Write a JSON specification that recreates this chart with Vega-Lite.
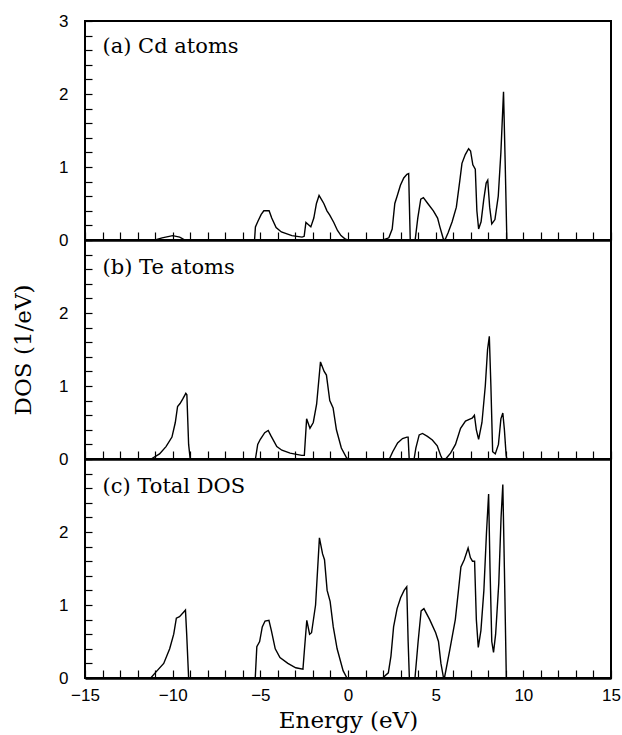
{
  "$schema": "https://vega.github.io/schema/vega-lite/v6.json",
  "padding": {"left": 11, "top": 11, "right": 8, "bottom": 2},
  "background": "white",
  "config": {
    "view": {"stroke": "black", "strokeWidth": 2},
    "axis": {"grid": false, "tickColor": "black", "tickWidth": 1.2, "labelColor": "black", "titleColor": "black", "labelFont": "Liberation Sans", "labelFontSize": 17, "titleFont": "DejaVu Serif", "titleFontSize": 23, "titleFontWeight": "normal", "labelOverlap": false, "labelFlush": false, "labelBound": false, "tickCount": 100}
  },
  "datasets": {
    "dos": [
      {"panel": "a", "x": -15, "y": 0}, {"panel": "a", "x": -11.0, "y": 0}, {"panel": "a", "x": -10.6, "y": 0.03}, {"panel": "a", "x": -10.0, "y": 0.06}, {"panel": "a", "x": -9.6, "y": 0.04}, {"panel": "a", "x": -9.3, "y": 0},
      {"panel": "a", "x": -5.33, "y": 0}, {"panel": "a", "x": -5.28, "y": 0.18}, {"panel": "a", "x": -5.15, "y": 0.25}, {"panel": "a", "x": -4.95, "y": 0.35}, {"panel": "a", "x": -4.8, "y": 0.4}, {"panel": "a", "x": -4.5, "y": 0.4}, {"panel": "a", "x": -4.35, "y": 0.3}, {"panel": "a", "x": -4.1, "y": 0.17}, {"panel": "a", "x": -3.8, "y": 0.11}, {"panel": "a", "x": -3.2, "y": 0.06}, {"panel": "a", "x": -2.62, "y": 0.04}, {"panel": "a", "x": -2.5, "y": 0.05}, {"panel": "a", "x": -2.4, "y": 0.24}, {"panel": "a", "x": -2.3, "y": 0.22}, {"panel": "a", "x": -2.12, "y": 0.18}, {"panel": "a", "x": -1.95, "y": 0.3}, {"panel": "a", "x": -1.8, "y": 0.5}, {"panel": "a", "x": -1.65, "y": 0.61}, {"panel": "a", "x": -1.5, "y": 0.55}, {"panel": "a", "x": -1.38, "y": 0.5}, {"panel": "a", "x": -1.2, "y": 0.4}, {"panel": "a", "x": -1.04, "y": 0.34}, {"panel": "a", "x": -0.81, "y": 0.24}, {"panel": "a", "x": -0.6, "y": 0.13}, {"panel": "a", "x": -0.4, "y": 0.06}, {"panel": "a", "x": -0.14, "y": 0.01}, {"panel": "a", "x": 0, "y": 0},
      {"panel": "a", "x": 2.0, "y": 0}, {"panel": "a", "x": 2.33, "y": 0.03}, {"panel": "a", "x": 2.52, "y": 0.15}, {"panel": "a", "x": 2.67, "y": 0.5}, {"panel": "a", "x": 2.8, "y": 0.6}, {"panel": "a", "x": 2.99, "y": 0.75}, {"panel": "a", "x": 3.18, "y": 0.85}, {"panel": "a", "x": 3.36, "y": 0.9}, {"panel": "a", "x": 3.46, "y": 0.91}, {"panel": "a", "x": 3.5, "y": 0.5}, {"panel": "a", "x": 3.55, "y": 0},
      {"panel": "a", "x": 3.83, "y": 0}, {"panel": "a", "x": 3.98, "y": 0.3}, {"panel": "a", "x": 4.15, "y": 0.56}, {"panel": "a", "x": 4.3, "y": 0.58}, {"panel": "a", "x": 4.55, "y": 0.5}, {"panel": "a", "x": 4.87, "y": 0.4}, {"panel": "a", "x": 5.11, "y": 0.3}, {"panel": "a", "x": 5.24, "y": 0.18}, {"panel": "a", "x": 5.43, "y": 0.02}, {"panel": "a", "x": 5.5, "y": 0},
      {"panel": "a", "x": 5.53, "y": 0}, {"panel": "a", "x": 5.71, "y": 0.1}, {"panel": "a", "x": 5.94, "y": 0.25}, {"panel": "a", "x": 6.18, "y": 0.45}, {"panel": "a", "x": 6.37, "y": 0.8}, {"panel": "a", "x": 6.5, "y": 1.05}, {"panel": "a", "x": 6.69, "y": 1.17}, {"panel": "a", "x": 6.88, "y": 1.25}, {"panel": "a", "x": 6.99, "y": 1.22}, {"panel": "a", "x": 7.12, "y": 1.03}, {"panel": "a", "x": 7.26, "y": 0.97}, {"panel": "a", "x": 7.35, "y": 0.4}, {"panel": "a", "x": 7.45, "y": 0.15}, {"panel": "a", "x": 7.59, "y": 0.25}, {"panel": "a", "x": 7.74, "y": 0.55}, {"panel": "a", "x": 7.88, "y": 0.78}, {"panel": "a", "x": 7.97, "y": 0.82}, {"panel": "a", "x": 8.08, "y": 0.45}, {"panel": "a", "x": 8.2, "y": 0.22}, {"panel": "a", "x": 8.38, "y": 0.28}, {"panel": "a", "x": 8.57, "y": 0.6}, {"panel": "a", "x": 8.72, "y": 1.2}, {"panel": "a", "x": 8.87, "y": 2.03}, {"panel": "a", "x": 8.97, "y": 1.0}, {"panel": "a", "x": 9.06, "y": 0}, {"panel": "a", "x": 15, "y": 0},

      {"panel": "b", "x": -15, "y": 0}, {"panel": "b", "x": -11.23, "y": 0}, {"panel": "b", "x": -10.75, "y": 0.07}, {"panel": "b", "x": -10.38, "y": 0.17}, {"panel": "b", "x": -10.04, "y": 0.3}, {"panel": "b", "x": -9.85, "y": 0.5}, {"panel": "b", "x": -9.72, "y": 0.72}, {"panel": "b", "x": -9.58, "y": 0.76}, {"panel": "b", "x": -9.43, "y": 0.82}, {"panel": "b", "x": -9.25, "y": 0.9}, {"panel": "b", "x": -9.19, "y": 0.88}, {"panel": "b", "x": -9.09, "y": 0.2}, {"panel": "b", "x": -9.0, "y": 0},
      {"panel": "b", "x": -5.28, "y": 0}, {"panel": "b", "x": -5.15, "y": 0.2}, {"panel": "b", "x": -5.0, "y": 0.27}, {"panel": "b", "x": -4.75, "y": 0.36}, {"panel": "b", "x": -4.55, "y": 0.39}, {"panel": "b", "x": -4.4, "y": 0.32}, {"panel": "b", "x": -4.06, "y": 0.17}, {"panel": "b", "x": -3.77, "y": 0.12}, {"panel": "b", "x": -3.3, "y": 0.08}, {"panel": "b", "x": -2.64, "y": 0.05}, {"panel": "b", "x": -2.49, "y": 0.05}, {"panel": "b", "x": -2.36, "y": 0.55}, {"panel": "b", "x": -2.17, "y": 0.42}, {"panel": "b", "x": -1.98, "y": 0.5}, {"panel": "b", "x": -1.79, "y": 0.75}, {"panel": "b", "x": -1.57, "y": 1.33}, {"panel": "b", "x": -1.36, "y": 1.2}, {"panel": "b", "x": -1.23, "y": 1.15}, {"panel": "b", "x": -1.04, "y": 0.8}, {"panel": "b", "x": -0.85, "y": 0.7}, {"panel": "b", "x": -0.66, "y": 0.4}, {"panel": "b", "x": -0.38, "y": 0.15}, {"panel": "b", "x": -0.09, "y": 0.02}, {"panel": "b", "x": 0, "y": 0},
      {"panel": "b", "x": 2.36, "y": 0}, {"panel": "b", "x": 2.55, "y": 0.1}, {"panel": "b", "x": 2.83, "y": 0.22}, {"panel": "b", "x": 3.11, "y": 0.28}, {"panel": "b", "x": 3.36, "y": 0.3}, {"panel": "b", "x": 3.43, "y": 0.3}, {"panel": "b", "x": 3.49, "y": 0},
      {"panel": "b", "x": 3.77, "y": 0}, {"panel": "b", "x": 3.87, "y": 0.15}, {"panel": "b", "x": 4.06, "y": 0.33}, {"panel": "b", "x": 4.25, "y": 0.35}, {"panel": "b", "x": 4.53, "y": 0.31}, {"panel": "b", "x": 4.81, "y": 0.26}, {"panel": "b", "x": 5.09, "y": 0.18}, {"panel": "b", "x": 5.28, "y": 0.05}, {"panel": "b", "x": 5.38, "y": 0},
      {"panel": "b", "x": 5.57, "y": 0}, {"panel": "b", "x": 5.85, "y": 0.08}, {"panel": "b", "x": 6.13, "y": 0.2}, {"panel": "b", "x": 6.42, "y": 0.42}, {"panel": "b", "x": 6.7, "y": 0.52}, {"panel": "b", "x": 6.98, "y": 0.55}, {"panel": "b", "x": 7.08, "y": 0.56}, {"panel": "b", "x": 7.21, "y": 0.6}, {"panel": "b", "x": 7.32, "y": 0.4}, {"panel": "b", "x": 7.45, "y": 0.27}, {"panel": "b", "x": 7.64, "y": 0.5}, {"panel": "b", "x": 7.83, "y": 1.0}, {"panel": "b", "x": 7.96, "y": 1.5}, {"panel": "b", "x": 8.06, "y": 1.68}, {"panel": "b", "x": 8.15, "y": 1.0}, {"panel": "b", "x": 8.25, "y": 0.1}, {"panel": "b", "x": 8.4, "y": 0.07}, {"panel": "b", "x": 8.58, "y": 0.2}, {"panel": "b", "x": 8.72, "y": 0.55}, {"panel": "b", "x": 8.83, "y": 0.63}, {"panel": "b", "x": 8.92, "y": 0.4}, {"panel": "b", "x": 9.02, "y": 0.05}, {"panel": "b", "x": 9.06, "y": 0}, {"panel": "b", "x": 15, "y": 0},

      {"panel": "c", "x": -15, "y": 0}, {"panel": "c", "x": -11.25, "y": 0}, {"panel": "c", "x": -10.96, "y": 0.08}, {"panel": "c", "x": -10.51, "y": 0.2}, {"panel": "c", "x": -10.17, "y": 0.4}, {"panel": "c", "x": -9.94, "y": 0.6}, {"panel": "c", "x": -9.79, "y": 0.82}, {"panel": "c", "x": -9.61, "y": 0.84}, {"panel": "c", "x": -9.38, "y": 0.9}, {"panel": "c", "x": -9.27, "y": 0.93}, {"panel": "c", "x": -9.2, "y": 0.6}, {"panel": "c", "x": -9.09, "y": 0},
      {"panel": "c", "x": -5.29, "y": 0}, {"panel": "c", "x": -5.2, "y": 0.43}, {"panel": "c", "x": -5.04, "y": 0.5}, {"panel": "c", "x": -4.89, "y": 0.7}, {"panel": "c", "x": -4.73, "y": 0.78}, {"panel": "c", "x": -4.51, "y": 0.79}, {"panel": "c", "x": -4.37, "y": 0.65}, {"panel": "c", "x": -4.15, "y": 0.4}, {"panel": "c", "x": -3.88, "y": 0.28}, {"panel": "c", "x": -3.43, "y": 0.2}, {"panel": "c", "x": -2.98, "y": 0.14}, {"panel": "c", "x": -2.57, "y": 0.12}, {"panel": "c", "x": -2.48, "y": 0.4}, {"panel": "c", "x": -2.35, "y": 0.79}, {"panel": "c", "x": -2.19, "y": 0.6}, {"panel": "c", "x": -2.08, "y": 0.62}, {"panel": "c", "x": -1.85, "y": 1.0}, {"panel": "c", "x": -1.63, "y": 1.92}, {"panel": "c", "x": -1.45, "y": 1.7}, {"panel": "c", "x": -1.34, "y": 1.62}, {"panel": "c", "x": -1.19, "y": 1.2}, {"panel": "c", "x": -1.02, "y": 1.05}, {"panel": "c", "x": -0.84, "y": 0.7}, {"panel": "c", "x": -0.62, "y": 0.4}, {"panel": "c", "x": -0.28, "y": 0.1}, {"panel": "c", "x": -0.06, "y": 0},
      {"panel": "c", "x": 1.97, "y": 0}, {"panel": "c", "x": 2.3, "y": 0.07}, {"panel": "c", "x": 2.45, "y": 0.3}, {"panel": "c", "x": 2.6, "y": 0.7}, {"panel": "c", "x": 2.8, "y": 0.95}, {"panel": "c", "x": 3.0, "y": 1.1}, {"panel": "c", "x": 3.2, "y": 1.2}, {"panel": "c", "x": 3.35, "y": 1.25}, {"panel": "c", "x": 3.43, "y": 0.5}, {"panel": "c", "x": 3.5, "y": 0},
      {"panel": "c", "x": 3.82, "y": 0}, {"panel": "c", "x": 4.0, "y": 0.5}, {"panel": "c", "x": 4.17, "y": 0.92}, {"panel": "c", "x": 4.33, "y": 0.95}, {"panel": "c", "x": 4.66, "y": 0.8}, {"panel": "c", "x": 5.0, "y": 0.62}, {"panel": "c", "x": 5.16, "y": 0.5}, {"panel": "c", "x": 5.3, "y": 0.2}, {"panel": "c", "x": 5.45, "y": 0},
      {"panel": "c", "x": 5.5, "y": 0}, {"panel": "c", "x": 5.8, "y": 0.38}, {"panel": "c", "x": 6.12, "y": 0.8}, {"panel": "c", "x": 6.3, "y": 1.2}, {"panel": "c", "x": 6.44, "y": 1.52}, {"panel": "c", "x": 6.63, "y": 1.62}, {"panel": "c", "x": 6.85, "y": 1.78}, {"panel": "c", "x": 6.98, "y": 1.65}, {"panel": "c", "x": 7.1, "y": 1.6}, {"panel": "c", "x": 7.22, "y": 1.6}, {"panel": "c", "x": 7.32, "y": 0.8}, {"panel": "c", "x": 7.43, "y": 0.42}, {"panel": "c", "x": 7.58, "y": 0.65}, {"panel": "c", "x": 7.75, "y": 1.2}, {"panel": "c", "x": 7.9, "y": 2.0}, {"panel": "c", "x": 8.02, "y": 2.52}, {"panel": "c", "x": 8.1, "y": 1.5}, {"panel": "c", "x": 8.2, "y": 0.5}, {"panel": "c", "x": 8.3, "y": 0.35}, {"panel": "c", "x": 8.42, "y": 0.6}, {"panel": "c", "x": 8.6, "y": 1.3}, {"panel": "c", "x": 8.73, "y": 2.2}, {"panel": "c", "x": 8.83, "y": 2.65}, {"panel": "c", "x": 8.92, "y": 1.5}, {"panel": "c", "x": 9.03, "y": 0}, {"panel": "c", "x": 15, "y": 0}
    ],
    "labels": [
      {"panel": "a", "x": -14.0, "y": 2.64, "text": "(a) Cd atoms"},
      {"panel": "b", "x": -14.0, "y": 2.62, "text": "(b) Te atoms"},
      {"panel": "c", "x": -14.0, "y": 2.62, "text": "(c) Total DOS"}
    ]
  },
  "vconcat": [
    {
      "width": 526, "height": 219,
      "layer": [
        {
          "data": {"name": "dos"},
          "transform": [{"filter": "datum.panel === 'a'"}],
          "mark": {"type": "line", "color": "black", "strokeWidth": 1.4, "clip": true},
          "encoding": {
            "x": {"field": "x", "type": "quantitative", "scale": {"domain": [-15, 15], "nice": false},
              "axis": {"values": [-15,-14,-13,-12,-11,-10,-9,-8,-7,-6,-5,-4,-3,-2,-1,0,1,2,3,4,5,6,7,8,9,10,11,12,13,14,15], "tickCount": 100, "labels": false, "title": null, "tickSize": -8, "ticks": true, "domain": true, "domainColor": "black", "domainWidth": 2.5, "labelOverlap": false,
                "encode": {"ticks": {"update": {"y2": {"signal": "datum.value % 5 === 0 ? -8 : -4"}}}}}},
            "y": {"field": "y", "type": "quantitative", "scale": {"domain": [0, 3], "nice": false},
              "axis": {"values": [0,0.2,0.4,0.6,0.8,1,1.2,1.4,1.6,1.8,2,2.2,2.4,2.6,2.8,3], "tickCount": 100, "title": null, "tickSize": -7, "ticks": true, "labelPadding": 24, "domain": false, "labelOverlap": false,
                "labelExpr": "abs(datum.value - round(datum.value)) < 0.01 ? format(round(datum.value), 'd') : ''",
                "encode": {"ticks": {"update": {"x2": {"signal": "abs(datum.value - round(datum.value)) < 0.01 ? 7 : 4"}}}}}}
          }
        },
        {
          "data": {"name": "labels"},
          "transform": [{"filter": "datum.panel === 'a'"}],
          "mark": {"type": "text", "align": "left", "baseline": "middle", "font": "DejaVu Serif", "fontSize": 21, "color": "black"},
          "encoding": {"x": {"field": "x", "type": "quantitative"}, "y": {"field": "y", "type": "quantitative"}, "text": {"field": "text"}}
        }
      ]
    },
    {
      "width": 526, "height": 219,
      "layer": [
        {
          "data": {"name": "dos"},
          "transform": [{"filter": "datum.panel === 'b'"}],
          "mark": {"type": "line", "color": "black", "strokeWidth": 1.4, "clip": true},
          "encoding": {
            "x": {"field": "x", "type": "quantitative", "scale": {"domain": [-15, 15], "nice": false},
              "axis": {"values": [-15,-14,-13,-12,-11,-10,-9,-8,-7,-6,-5,-4,-3,-2,-1,0,1,2,3,4,5,6,7,8,9,10,11,12,13,14,15], "tickCount": 100, "labels": false, "title": null, "tickSize": -8, "ticks": true, "domain": true, "domainColor": "black", "domainWidth": 2.5, "labelOverlap": false,
                "encode": {"ticks": {"update": {"y2": {"signal": "datum.value % 5 === 0 ? -8 : -4"}}}}}},
            "y": {"field": "y", "type": "quantitative", "scale": {"domain": [0, 3], "nice": false},
              "axis": {"values": [0,0.2,0.4,0.6,0.8,1,1.2,1.4,1.6,1.8,2,2.2,2.4,2.6,2.8,3], "tickCount": 100, "title": "DOS (1/eV)", "titlePadding": 23, "tickSize": -7, "ticks": true, "labelPadding": 24, "domain": false, "labelOverlap": false,
                "labelExpr": "datum.value < 2.9 && abs(datum.value - round(datum.value)) < 0.01 ? format(round(datum.value), 'd') : ''",
                "encode": {"ticks": {"update": {"x2": {"signal": "abs(datum.value - round(datum.value)) < 0.01 ? 7 : 4"}}}}}}
          }
        },
        {
          "data": {"name": "labels"},
          "transform": [{"filter": "datum.panel === 'b'"}],
          "mark": {"type": "text", "align": "left", "baseline": "middle", "font": "DejaVu Serif", "fontSize": 21, "color": "black"},
          "encoding": {"x": {"field": "x", "type": "quantitative"}, "y": {"field": "y", "type": "quantitative"}, "text": {"field": "text"}}
        }
      ]
    },
    {
      "width": 526, "height": 219,
      "layer": [
        {
          "data": {"name": "dos"},
          "transform": [{"filter": "datum.panel === 'c'"}],
          "mark": {"type": "line", "color": "black", "strokeWidth": 1.4, "clip": true},
          "encoding": {
            "x": {"field": "x", "type": "quantitative", "scale": {"domain": [-15, 15], "nice": false},
              "axis": {"values": [-15,-14,-13,-12,-11,-10,-9,-8,-7,-6,-5,-4,-3,-2,-1,0,1,2,3,4,5,6,7,8,9,10,11,12,13,14,15], "tickCount": 100, "title": "Energy (eV)", "titlePadding": 6, "tickSize": -8, "ticks": true, "labelPadding": 17, "domain": true, "domainColor": "black", "domainWidth": 2.5, "labelOverlap": false,
                "labelExpr": "datum.value % 5 === 0 ? format(datum.value, 'd') : ''",
                "encode": {"ticks": {"update": {"y2": {"signal": "datum.value % 5 === 0 ? -8 : -4"}}}}}},
            "y": {"field": "y", "type": "quantitative", "scale": {"domain": [0, 3], "nice": false},
              "axis": {"values": [0,0.2,0.4,0.6,0.8,1,1.2,1.4,1.6,1.8,2,2.2,2.4,2.6,2.8,3], "tickCount": 100, "title": null, "tickSize": -7, "ticks": true, "labelPadding": 24, "domain": false, "labelOverlap": false,
                "labelExpr": "datum.value < 2.9 && abs(datum.value - round(datum.value)) < 0.01 ? format(round(datum.value), 'd') : ''",
                "encode": {"ticks": {"update": {"x2": {"signal": "abs(datum.value - round(datum.value)) < 0.01 ? 7 : 4"}}}}}}
          }
        },
        {
          "data": {"name": "labels"},
          "transform": [{"filter": "datum.panel === 'c'"}],
          "mark": {"type": "text", "align": "left", "baseline": "middle", "font": "DejaVu Serif", "fontSize": 21, "color": "black"},
          "encoding": {"x": {"field": "x", "type": "quantitative"}, "y": {"field": "y", "type": "quantitative"}, "text": {"field": "text"}}
        }
      ]
    }
  ],
  "spacing": 0,
  "bounds": "flush"
}
